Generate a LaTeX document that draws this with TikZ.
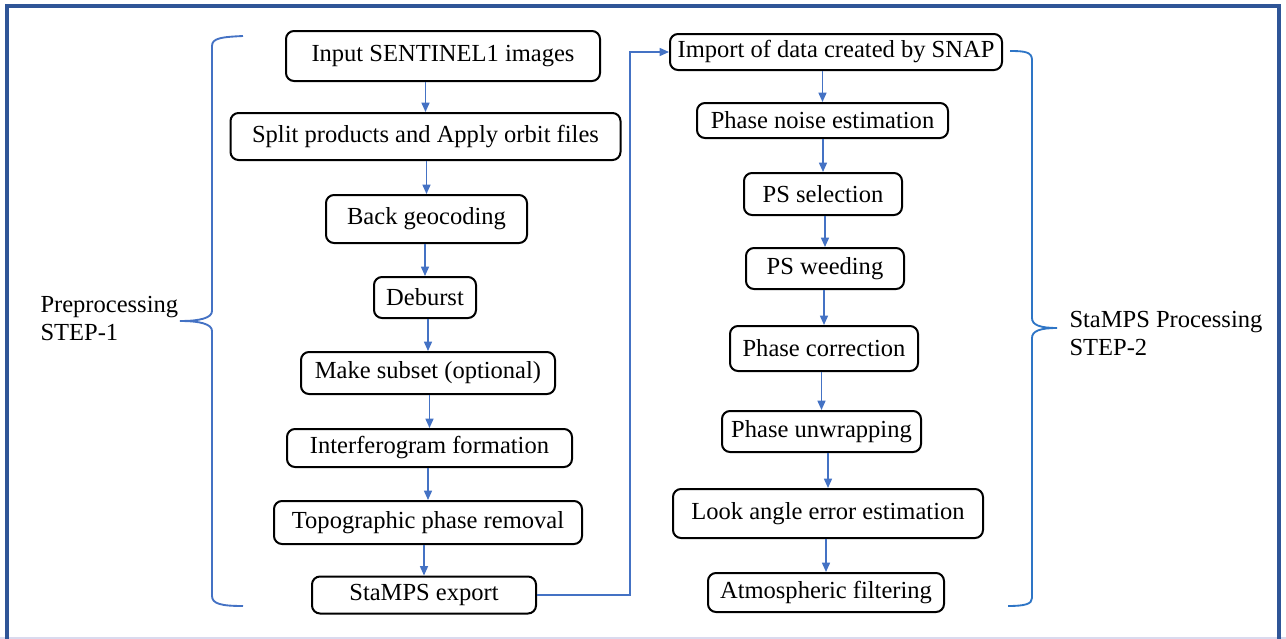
\documentclass[tikz,border=0pt]{standalone}
\usepackage{fontspec}
\setmainfont{Liberation Serif}
\usetikzlibrary{arrows.meta}

\definecolor{framecol}{HTML}{2F5597}
\definecolor{flowcol}{HTML}{4472C4}
\definecolor{bracecol}{HTML}{2E75C6}
\definecolor{edgecol}{HTML}{DADAEE}

\tikzset{every picture/.style={line width=0.75pt}}
\tikzset{
  stepbox/.style={draw, rounded corners=6pt, line width=1.5pt, inner sep=2pt},
  flowarrow/.style={flowcol, line width=1.1pt, -{Triangle[length=7pt,width=6pt]}},
  bracepath/.style={line width=1.4pt}
}

\begin{document}
\begin{tikzpicture}[x=0.75pt,y=0.75pt,yscale=-1,xscale=1,
    every node/.style={font=\fontsize{18.4}{21}\selectfont}]
    \useasboundingbox (0,0) rectangle (1286,639);

    %Frame
    \draw [edgecol, line width=1.2pt] (0,638) -- (1286,638) ;
    \draw [framecol, line width=3pt] (7,639) -- (7,6) -- (1278.5,6) -- (1278.5,639) ;

    %Preprocessing column
    \node [stepbox, minimum width=235.5pt, minimum height=37.5pt] (in) at (443,56) {Input SENTINEL1 images};
    \node [stepbox, minimum width=292.5pt, minimum height=35.25pt] (split) at (425.5,136.5) {Split products and Apply orbit files};
    \node [stepbox, minimum width=150.75pt, minimum height=36pt] (back) at (426.5,219) {Back geocoding};
    \node [stepbox, minimum width=76.5pt, minimum height=30.75pt] (deb) at (425,297.5) {Deburst};
    \node [stepbox, minimum width=190.5pt, minimum height=31.5pt] (sub) at (428,373) {Make subset (optional)};
    \node [stepbox, minimum width=213.75pt, minimum height=28.5pt] (intf) at (429.5,448) {Interferogram formation};
    \node [stepbox, minimum width=231pt, minimum height=32.25pt] (topo) at (428,522.5) {Topographic phase removal};
    \node [stepbox, minimum width=168pt, minimum height=27.75pt] (exp) at (424,595) {StaMPS export};

    %StaMPS column
    \node [stepbox, minimum width=249pt, minimum height=27pt] (imp) at (836,52) {Import of data created by SNAP};
    \node [stepbox, minimum width=188.25pt, minimum height=26.25pt] (noise) at (822.5,120.5) {Phase noise estimation};
    \node [stepbox, minimum width=118.5pt, minimum height=31.5pt] (sel) at (823,194) {PS selection};
    \node [stepbox, minimum width=118.5pt, minimum height=30.75pt] (weed) at (825,268.5) {PS weeding};
    \node [stepbox, minimum width=141pt, minimum height=33.75pt] (corr) at (824,348.5) {Phase correction};
    \node [stepbox, minimum width=149.25pt, minimum height=30.75pt] (unw) at (821.5,431.5) {Phase unwrapping};
    \node [stepbox, minimum width=232.5pt, minimum height=36.75pt] (look) at (828,513.5) {Look angle error estimation};
    \node [stepbox, minimum width=177pt, minimum height=29.25pt] (atm) at (826,592.5) {Atmospheric filtering};

    %Arrows
    \foreach \a/\b in {in/split, split/back, back/deb, deb/sub, sub/intf, intf/topo, topo/exp,
                       imp/noise, noise/sel, sel/weed, weed/corr, corr/unw, unw/look, look/atm}
      \draw [flowarrow] (\a.south -| \b.north) -- (\b.north) ;
    \coordinate (bend) at (630,320);
    \draw [flowarrow] (exp.east) -| (bend) |- (imp.west) ;

    %Braces
    \draw [flowcol, bracepath] (243,36) .. controls (222,37) and (212,38) .. (212,46) -- (212,311)
          .. controls (212,318) and (200,321) .. (180,321) .. controls (200,321) and (212,324) .. (212,331)
          -- (212,596) .. controls (212,604) and (222,606) .. (243,606) ;
    \draw [bracecol, bracepath] (1010,51) .. controls (1025,51) and (1032,52) .. (1032,60) -- (1032,318)
          .. controls (1032,325) and (1040,328) .. (1057,328) .. controls (1040,328) and (1032,331) .. (1032,338)
          -- (1032,598) .. controls (1032,604) and (1025,606) .. (1008,606) ;

    %Labels
    \node [anchor=base west, align=left, inner sep=0pt] (pre) at (40,340) {Preprocessing\\STEP-1};
    \node [anchor=base west, align=left, inner sep=0pt] (sta) at (1069,355) {StaMPS Processing\\STEP-2};
\end{tikzpicture}
\end{document}
